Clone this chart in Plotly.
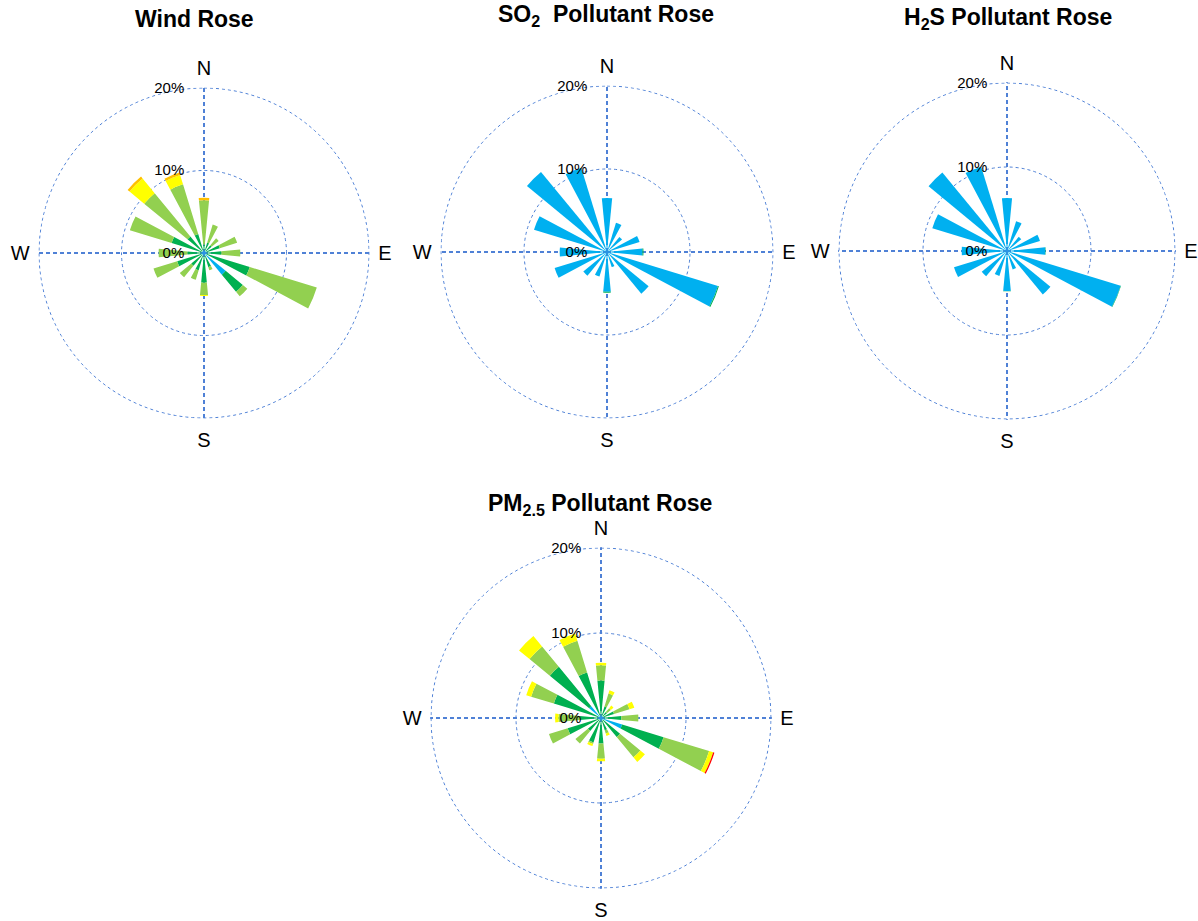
import plotly.graph_objects as go

DIRECTIONS = ["N", "NNE", "NE", "ENE", "E", "ESE", "SE", "SSE",
              "S", "SSW", "SW", "WSW", "W", "WNW", "NW", "NNW"]
ANGLES = [0, 22.5, 45, 67.5, 90, 112.5, 135, 157.5,
          180, 202.5, 225, 247.5, 270, 292.5, 315, 337.5]

BIN_NAMES = ["bin1", "bin2", "bin3", "bin4", "bin5", "bin6"]
BIN_COLORS = ["#00B0F0", "#00B050", "#92D050", "#FFFF00", "#FFC000", "#FF0000"]

# Wind rose (% frequency per speed bin, stacked segments)
WIND_B1 = [0.3, 0.3, 0.3, 0.3, 0.3, 0.3, 3.4, 0.3, 0.3, 0.3, 0.3, 0.3, 0.3, 0.3, 0.3, 0.3]
WIND_B2 = [0.7, 1.0, 0.9, 1.7, 1.8, 5.5, 2.7, 1.5, 3.3, 1.9, 1.7, 3.1, 1.7, 3.8, 2.3, 2.1]
WIND_B3 = [5.4, 2.3, 1.1, 2.2, 2.3, 8.5, 0.7, 0.4, 1.5, 1.2, 1.8, 3.0, 3.5, 5.3, 6.8, 6.3]
WIND_B4 = [0.0, 0.0, 0.0, 0.0, 0.0, 0.0, 0.0, 0.0, 0.1, 0.0, 0.0, 0.0, 0.0, 0.0, 2.3, 1.2]
WIND_B5 = [0.3, 0.0, 0.0, 0.0, 0.0, 0.0, 0.0, 0.0, 0.0, 0.0, 0.0, 0.0, 0.0, 0.0, 0.3, 0.3]
WIND_B6 = [0.0] * 16

# SO2 pollutant rose
SO2_B1 = [6.5, 3.7, 2.35, 4.1, 4.28, 13.98, 6.5, 1.9, 4.78, 3.1, 3.7, 6.6, 5.7, 9.2, 12.5, 10.6]
SO2_B2 = [0.0, 0.0, 0.0, 0.0, 0.12, 0.12, 0.0, 0.0, 0.12, 0.0, 0.0, 0.0, 0.0, 0.0, 0.0, 0.0]

# H2S pollutant rose
H2S_B1 = [6.3, 3.7, 2.2, 4.1, 4.55, 14.15, 6.7, 2.3, 4.75, 3.1, 3.9, 6.6, 5.4, 9.3, 12.1, 10.5]
H2S_B2 = [0.0, 0.0, 0.0, 0.0, 0.05, 0.05, 0.0, 0.0, 0.05, 0.0, 0.0, 0.0, 0.0, 0.0, 0.0, 0.0]

# PM2.5 pollutant rose
PM_B1 = [0.3, 0.3, 0.3, 0.3, 0.3, 2.6, 0.3, 0.3, 0.3, 0.3, 0.3, 0.3, 0.3, 0.3, 1.8, 0.3]
PM_B2 = [4.1, 1.1, 0.6, 1.3, 2.1, 5.1, 2.6, 1.2, 2.7, 2.7, 1.7, 3.8, 2.2, 5.5, 6.0, 5.3]
PM_B3 = [1.8, 1.6, 0.6, 1.9, 2.0, 5.6, 3.1, 0.4, 1.8, 0.2, 1.9, 2.3, 2.5, 2.8, 3.1, 3.9]
PM_B4 = [0.3, 0.4, 0.4, 0.6, 0.0, 0.5, 0.7, 0.3, 0.3, 0.25, 0.0, 0.0, 0.4, 0.6, 1.6, 0.9]
PM_B5 = [0.0] * 16
PM_B6 = [0.0, 0.0, 0.0, 0.0, 0.0, 0.15, 0.0, 0.0, 0.0, 0.0, 0.0, 0.0, 0.0, 0.0, 0.0, 0.0]

TITLES = ["<b>Wind Rose</b>", "<b>SO<sub>2</sub>  Pollutant Rose</b>",
          "<b>H<sub>2</sub>S Pollutant Rose</b>", "<b>PM<sub>2.5</sub> Pollutant Rose</b>"]
RADIAL_TICKS = [0, 10, 20]
RADIAL_TEXT = ["0%", "10%", "20%"]
COMPASS_TEXT = ["N", "E", "S", "W"]
COMPASS_VALS = [0, 90, 180, 270]
R_MAX = 20.1

W, H = 1198, 921
# polar centres/radii in page pixels
LAYOUT_PX = [(204, 253, 165), (607, 252, 166), (1007, 251, 168), (601, 718, 170)]
TITLE_PX = [(194, 19), (606, 15), (1008, 18), (600, 504)]

roses = [
    [WIND_B1, WIND_B2, WIND_B3, WIND_B4, WIND_B5, WIND_B6],
    [SO2_B1, SO2_B2],
    [H2S_B1, H2S_B2],
    [PM_B1, PM_B2, PM_B3, PM_B4, PM_B5, PM_B6],
]

FONT = "Liberation Sans, Arial, sans-serif"
GRID = "#4F81D6"
circle_theta = list(range(0, 361, 2))

fig = go.Figure()
for i, bins in enumerate(roses):
    sub = "polar" if i == 0 else f"polar{i + 1}"
    # outer grid ring at the last radial tick (dotted like the inner ring)
    fig.add_trace(go.Scatterpolar(
        r=[RADIAL_TICKS[-1]] * len(circle_theta), theta=circle_theta, mode="lines",
        line=dict(color=GRID, width=1, dash="dot"), subplot=sub,
        showlegend=False, hoverinfo="skip",
    ))
    for j, vals in enumerate(bins):
        fig.add_trace(go.Barpolar(
            r=vals, theta=ANGLES, width=11, name=BIN_NAMES[j],
            marker=dict(color=BIN_COLORS[j], line=dict(width=0)),
            subplot=sub, showlegend=False, hoverinfo="r+theta",
        ))
    cx, cy, rad = LAYOUT_PX[i]
    rad = rad * R_MAX / 20
    polar = dict(
        domain=dict(x=[(cx - rad) / W, (cx + rad) / W],
                    y=[(H - cy - rad) / H, (H - cy + rad) / H]),
        bgcolor="rgba(0,0,0,0)",
        barmode="stack",
        radialaxis=dict(range=[0, R_MAX], tickvals=RADIAL_TICKS, ticktext=RADIAL_TEXT,
                        angle=90, tickangle=90, showline=False,
                        ticks="outside", ticklen=14, tickcolor="rgba(0,0,0,0)",
                        showgrid=True, gridcolor=GRID, gridwidth=1, griddash="dot",
                        tickfont=dict(family=FONT, size=15, color="black"),
                        side="counterclockwise", layer="above traces"),
        angularaxis=dict(rotation=90, direction="clockwise",
                         tickvals=COMPASS_VALS, ticktext=COMPASS_TEXT,
                         showline=False, ticks="outside", ticklen=4,
                         tickcolor="rgba(0,0,0,0)",
                         showgrid=True, gridcolor=GRID, gridwidth=1.8, griddash="4px,3px",
                         tickfont=dict(family=FONT, size=20, color="black")),
    )
    fig.layout[sub] = polar
    tx, ty = TITLE_PX[i]
    fig.add_annotation(text=TITLES[i], x=tx / W, y=1 - ty / H,
                       xref="paper", yref="paper",
                       showarrow=False, font=dict(family=FONT, size=23, color="black"),
                       xanchor="center", yanchor="middle")

fig.update_layout(width=W, height=H, margin=dict(l=0, r=0, t=0, b=0),
                  paper_bgcolor="white", plot_bgcolor="white", template="none")
fig.write_html("out.html", config={"displayModeBar": False},
               post_script="document.body.style.margin='0';document.body.style.overflow='hidden';")
